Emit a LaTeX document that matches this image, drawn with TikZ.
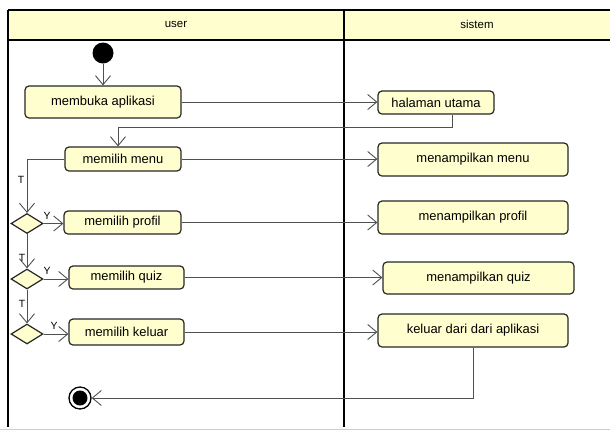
\documentclass[tikz,border=0pt]{standalone}
\usepackage{fontspec}
\setmainfont{Liberation Sans}
\usetikzlibrary{arrows.meta,shapes.geometric}
\definecolor{umlfill}{HTML}{FEFECE}
\definecolor{lineg}{HTML}{505050}
\tikzset{
  act/.style={draw=black!85, line width=1.2bp, fill=umlfill, rounded corners=4bp, inner sep=0pt, font=\fontsize{13}{15}\selectfont},
  dec/.style={draw=black!85, line width=1.2bp, fill=umlfill, diamond, inner sep=0pt, minimum width=32bp, minimum height=20bp, aspect=1.6},
  flow/.style={draw=lineg, line width=0.9bp, -{Straight Barb[length=9bp,width=15bp,line width=0.9bp]}},
  lbl/.style={font=\fontsize{10.5}{12}\selectfont, inner sep=0pt},
  lane/.style={draw=black, line width=2bp}
}
\begin{document}
\begin{tikzpicture}[x=1bp,y=-1bp]
\useasboundingbox (0,0) rectangle (610,430);
% swimlanes
\fill[umlfill] (8,10) rectangle (615,40);
\draw[black, line width=1.5bp] (8,10) -- (615,10);
\draw[black, line width=1.5bp] (8,40) -- (615,40);
\draw[lane] (8,10) -- (8,427);
\draw[lane] (344,10) -- (344,427);
\draw[black!20, line width=1bp] (0,429) -- (610,429);
\node[font=\fontsize{11.5}{13}\selectfont] (huser) at (176,24) {user};
\node[font=\fontsize{11.5}{13}\selectfont] (hsys) at (477,24) {sistem};
% nodes
\node[circle, fill=black, minimum size=21bp, inner sep=0pt] (start) at (103,53) {};
\node[act, minimum width=156bp, minimum height=32bp] (buka) at (103,102) {membuka aplikasi};
\node[act, minimum width=116bp, minimum height=23bp] (utama) at (436,102.5) {halaman utama};
\node[act, minimum width=116bp, minimum height=24bp] (menu) at (123,159) {memilih menu};
\node[act, minimum width=190bp, minimum height=33bp] (tmenu) at (473,159.5) {menampilkan menu};
\node[dec] (d1) at (27,223.5) {};
\node[act, minimum width=117bp, minimum height=23bp] (profil) at (122.5,222.5) {memilih profil};
\node[act, minimum width=190bp, minimum height=33bp] (tprofil) at (473,217.5) {menampilkan profil};
\node[dec] (d2) at (27,279) {};
\node[act, minimum width=115bp, minimum height=23bp] (quiz) at (126.5,277.5) {memilih quiz};
\node[act, minimum width=191bp, minimum height=32bp] (tquiz) at (478.5,278) {menampilkan quiz};
\node[dec] (d3) at (27,334) {};
\node[act, minimum width=115bp, minimum height=26bp] (keluar) at (126.5,332) {memilih keluar};
\node[act, minimum width=190bp, minimum height=33bp] (tkeluar) at (473,330.5) {keluar dari dari aplikasi};
\node[circle, draw=black, line width=1.3bp, fill=white, minimum size=22bp, inner sep=0pt] (end) at (80,398) {};
\fill[black] (end.center) circle (7.5bp);
% coordinates for bends
\coordinate (u1) at (452,127);
\coordinate (u2) at (118,127);
\coordinate (m1) at (27,159);
\coordinate (k1) at (473,398);
% connectors
\draw[flow] (start) -- (buka);
\draw[flow] (buka.east) -- (utama.west |- buka.east);
\draw[flow] (utama.south -| u1) -- (u1) -- (u2) -- (u2 |- menu.north);
\draw[flow] (menu.west) -- (m1) -- (d1.north);
\draw[flow] (menu.east) -- (tmenu.west |- menu.east);
\draw[flow] (d1.east) -- (profil.west |- d1.east);
\draw[flow] (profil.east) -- (tprofil.west |- profil.east);
\draw[flow] (d1.south) -- (d2.north);
\draw[flow] (d2.east) -- (quiz.west |- d2.east);
\draw[flow] (quiz.east) -- (tquiz.west |- quiz.east);
\draw[flow] (d2.south) -- (d3.north);
\draw[flow] (d3.east) -- (keluar.west |- d3.east);
\draw[flow] (keluar.east) -- (tkeluar.west |- keluar.east);
\draw[flow] (tkeluar.south) -- (k1) -- (end.east);
% labels
\node[lbl] (t1) at (21,180) {T};
\node[lbl] (y1) at (47,216) {Y};
\node[lbl] (t2) at (22,258) {T};
\node[lbl] (y2) at (47,271) {Y};
\node[lbl] (t3) at (22,304) {T};
\node[lbl] (y3) at (54,326) {Y};
\end{tikzpicture}
\end{document}
